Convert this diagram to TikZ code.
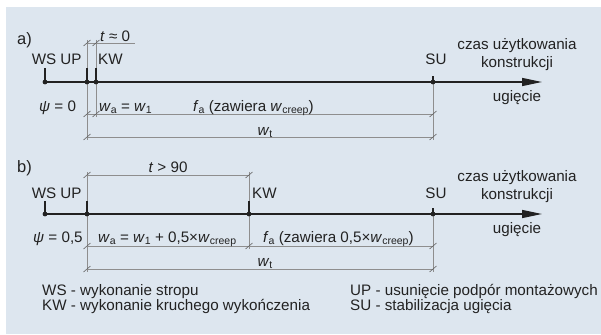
\documentclass[tikz,border=0pt]{standalone}
\usepackage{fontspec}
\setmainfont{Liberation Sans}
\usetikzlibrary{arrows.meta}
\definecolor{bgblue}{HTML}{DDE6EF}
\definecolor{ink}{HTML}{222222}
\definecolor{dimgray}{HTML}{8E8E8E}
\newcommand{\sbs}[1]{\raisebox{-0.3ex}{\fontsize{10.5}{10.5}\selectfont #1}}
\newcommand{\iw}{\textit{w}}
\begin{document}
\begin{tikzpicture}[x=1pt,y=-1pt,
  lbl/.style={inner sep=0pt, text=ink, font=\fontsize{15.2}{17}\selectfont},
  ttl/.style={inner sep=0pt, text=ink, font=\fontsize{16.5}{18}\selectfont},
  axisline/.style={draw=ink, line width=1.4pt},
  stemline/.style={draw=ink, line width=1.4pt},
  extline/.style={draw=dimgray, line width=0.6pt},
  dimline/.style={draw=dimgray, line width=0.6pt},
  dimtick/.style={draw=dimgray!70!black, line width=0.6pt},
  evdot/.style={fill=ink},
]
\useasboundingbox (0,0) rectangle (601,334);
\fill[white] (0,0) rectangle (601,334);
\fill[bgblue] (6,7) rectangle (601,334);

% ---------- a) ----------
\coordinate (aWS) at (45,82);
\coordinate (aUP) at (87,82);
\coordinate (aKW) at (96,82);
\coordinate (aSU) at (433,82);
\coordinate (aEnd) at (542,82);
\coordinate (aWSs) at (45,68);
\coordinate (aUPs) at (87,68);
\coordinate (aKWs) at (96,68);
\coordinate (aSUs) at (433,76);

\coordinate (aUPt) at (87,40);  \coordinate (aUPb) at (87,140);
\coordinate (aKWt) at (96,40);  \coordinate (aKWb) at (96,117);
\coordinate (aSUb) at (433,140);

\coordinate (aT1) at (87,43); \coordinate (aT2) at (96,43); \coordinate (aT3) at (135,43);
\coordinate (aA1) at (87,114); \coordinate (aA2) at (96,114); \coordinate (aA3) at (433,114);
\coordinate (aB1) at (87,137); \coordinate (aB3) at (433,137);

\draw[extline] (aUPt) -- (aUPb);
\draw[extline] (aKWt) -- (aKWb);
\draw[extline] (aSU) -- (aSUb);
\draw[dimline] (aT1) -- (aT3);
\draw[dimline] (aA1) -- (aA3);
\draw[dimline] (aB1) -- (aB3);
\foreach \p in {aT1,aT2,aA1,aA2,aA3,aB1,aB3}
  \draw[dimtick, shift={(\p)}] (-3.5,3) -- (3.5,-3);

\draw[axisline,-{Triangle[length=20pt,width=8pt]}] (aWS) -- (aEnd);
\draw[stemline] (aWS) -- (aWSs);
\draw[stemline] (aUP) -- (aUPs);
\draw[stemline] (aKW) -- (aKWs);
\draw[stemline] (aSU) -- (aSUs);
\foreach \p in {aWS,aUP,aKW,aSU} \fill[evdot] (\p) circle (2.4);

\node[ttl, anchor=base west] (la) at (17,45) {a)};
\node[lbl, anchor=base] (laWS) at (44,65) {WS};
\node[lbl, anchor=base] (laUP) at (71,65) {UP};
\node[lbl, anchor=base west] (laKW) at (98,65) {KW};
\node[lbl, anchor=base] (laSU) at (436,65) {SU};
\node[lbl, anchor=base west] (laT) at (100,42) {\textit{t} ≈ 0};
\node[lbl, anchor=base west] (laPsi) at (39,111) {\textit{ψ} = 0};
\node[lbl, anchor=base west] (laWa) at (99,111) {\iw\sbs{a} = \iw\sbs{1}};
\node[lbl, anchor=base west] (laFa) at (193,111) {\textit{f}\sbs{a} (zawiera \iw\sbs{creep})};
\node[lbl, anchor=base] (laWt) at (265,135) {\iw\sbs{t}};
\node[lbl, anchor=base] (laC1) at (517,50) {czas użytkowania};
\node[lbl, anchor=base] (laC2) at (517,68) {konstrukcji};
\node[lbl, anchor=base] (laU) at (517,102) {ugięcie};

% ---------- b) ----------
\coordinate (bWS) at (45,214);
\coordinate (bUP) at (87,214);
\coordinate (bKW) at (249,214);
\coordinate (bSU) at (433,214);
\coordinate (bEnd) at (542,214);
\coordinate (bWSs) at (45,201);
\coordinate (bUPs) at (87,201);
\coordinate (bKWs) at (249,201);
\coordinate (bSUs) at (433,208);

\coordinate (bUPt) at (87,172);  \coordinate (bUPb) at (87,272);
\coordinate (bKWt) at (249,172); \coordinate (bKWb) at (249,249);
\coordinate (bSUb) at (433,272);

\coordinate (bT1) at (87,175); \coordinate (bT2) at (249,175);
\coordinate (bA1) at (87,246); \coordinate (bA2) at (249,246); \coordinate (bA3) at (433,246);
\coordinate (bB1) at (87,269); \coordinate (bB3) at (433,269);

\draw[extline] (bUPt) -- (bUPb);
\draw[extline] (bKWt) -- (bKWb);
\draw[extline] (bSU) -- (bSUb);
\draw[dimline] (bT1) -- (bT2);
\draw[dimline] (bA1) -- (bA3);
\draw[dimline] (bB1) -- (bB3);
\foreach \p in {bT1,bT2,bA1,bA2,bA3,bB1,bB3}
  \draw[dimtick, shift={(\p)}] (-3.5,3) -- (3.5,-3);

\draw[axisline,-{Triangle[length=20pt,width=8pt]}] (bWS) -- (bEnd);
\draw[stemline] (bWS) -- (bWSs);
\draw[stemline] (bUP) -- (bUPs);
\draw[stemline] (bKW) -- (bKWs);
\draw[stemline] (bSU) -- (bSUs);
\foreach \p in {bWS,bUP,bKW,bSU} \fill[evdot] (\p) circle (2.4);

\node[ttl, anchor=base west] (lb) at (17,172) {b)};
\node[lbl, anchor=base] (lbT) at (168,172) {\textit{t} > 90};
\node[lbl, anchor=base] (lbWS) at (44,198) {WS};
\node[lbl, anchor=base] (lbUP) at (71,198) {UP};
\node[lbl, anchor=base west] (lbKW) at (252,198) {KW};
\node[lbl, anchor=base] (lbSU) at (436,198) {SU};
\node[lbl, anchor=base west] (lbPsi) at (33,242) {\textit{ψ} = 0,5};
\node[lbl, anchor=base west] (lbWa) at (98,242) {\iw\sbs{a} = \iw\sbs{1} + 0,5×\iw\sbs{creep}};
\node[lbl, anchor=base west] (lbFa) at (263,242) {\textit{f}\sbs{a} (zawiera 0,5×\iw\sbs{creep})};
\node[lbl, anchor=base] (lbWt) at (265,266) {\iw\sbs{t}};
\node[lbl, anchor=base] (lbC1) at (517,181) {czas użytkowania};
\node[lbl, anchor=base] (lbC2) at (517,199) {konstrukcji};
\node[lbl, anchor=base] (lbU) at (517,233) {ugięcie};

% ---------- legend ----------
\node[lbl, anchor=base west] (lgWS) at (42,295) {WS - wykonanie stropu};
\node[lbl, anchor=base west] (lgKW) at (42,310) {KW - wykonanie kruchego wykończenia};
\node[lbl, anchor=base west] (lgUP) at (350,295) {UP - usunięcie podpór montażowych};
\node[lbl, anchor=base west] (lgSU) at (350,310) {SU - stabilizacja ugięcia};
\end{tikzpicture}
\end{document}
